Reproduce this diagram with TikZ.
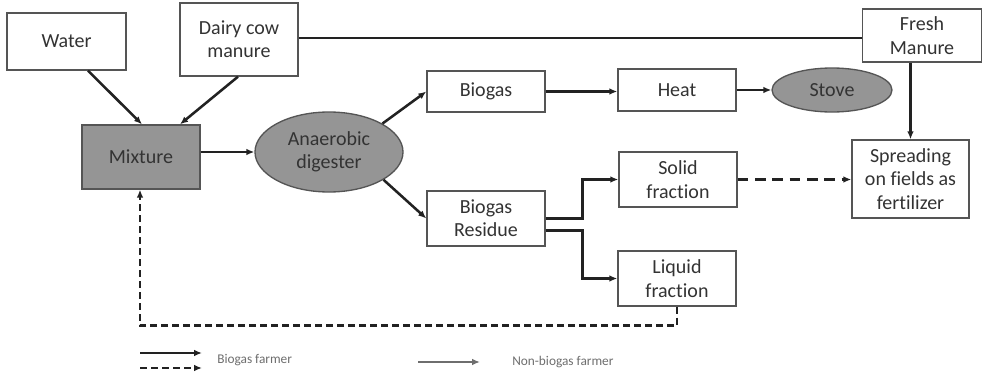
\documentclass[tikz,border=0pt]{standalone}
\usepackage{fontspec}
\setmainfont{Carlito}[Ligatures=NoCommon]
\usetikzlibrary{arrows.meta,calc,shapes.geometric}
\definecolor{linec}{HTML}{222222}
\definecolor{boxc}{HTML}{555555}
\definecolor{txtc}{HTML}{333333}
\definecolor{fillc}{HTML}{959595}
\definecolor{legc}{HTML}{6E6E6E}
\begin{document}
\begin{tikzpicture}[x=0.75pt,y=-0.75pt,
  box/.style={draw=boxc,line width=1pt,fill=white,text=txtc,align=center,inner sep=1pt,
    font=\fontsize{15}{17.5}\selectfont},
  grbox/.style={box,fill=fillc},
  oval/.style={ellipse,draw=boxc,line width=1pt,fill=fillc,text=txtc,align=center,inner sep=0pt,
    font=\fontsize{15}{17.5}\selectfont},
  conn/.style={draw=linec,line width=1.9pt},
  arr/.style={conn,-{Latex[length=6pt,width=5pt]}},
  darr/.style={arr,dash pattern=on 5.25pt off 3pt},
  legtext/.style={text=legc,anchor=west,font=\fontsize{10}{12}\selectfont,inner sep=0pt}
]
\useasboundingbox (0,0) rectangle (983,375);
\fill[white] (0,0) rectangle (983,375);

\node[box,minimum width=89.25pt,minimum height=42.75pt] (water) at (66.5,41.5) {Water};
\node[box,minimum width=88.5pt,minimum height=54.75pt] (dairy) at (239,39.5) {Dairy cow\\manure};
\node[grbox,minimum width=88.5pt,minimum height=48pt] (mix) at (141,157) {Mixture};
\node[oval,minimum width=111pt,minimum height=60pt] (anaer) at (329,152) {Anaerobic\\digester};
\node[box,minimum width=88.5pt,minimum height=30.75pt] (biogas) at (486,91.5) {Biogas};
\node[box,minimum width=88.5pt,minimum height=31.5pt] (heat) at (677,90) {Heat};
\node[oval,minimum width=90pt,minimum height=33pt] (stove) at (832,90) {Stove};
\node[box,minimum width=88.5pt,minimum height=41.25pt] (solid) at (678,179.5) {Solid\\fraction};
\node[box,minimum width=88.5pt,minimum height=41.25pt] (resid) at (486,218.5) {Biogas\\Residue};
\node[box,minimum width=88.5pt,minimum height=41.25pt] (liquid) at (677,278.5) {Liquid\\fraction};
\node[box,minimum width=89.25pt,minimum height=39.75pt] (fresh) at (922,35.5) {Fresh\\Manure};
\node[box,minimum width=87.75pt,minimum height=58.5pt] (spread) at (910.5,179) {Spreading\\on fields as\\fertilizer};

% connectors
\draw[arr] ($(water.south)+(21.5,0)$) -- ($(mix.north)+(1,0)$);
\draw[arr] ($(dairy.south)+(-1,0)$) -- ($(mix.north)+(39,0)$);
\draw[conn] ($(dairy.east)+(0,-1.5)$) -- ($(dairy.east -| fresh.west)+(0,-1.5)$);
\draw[arr] (mix.east |- anaer.west) -- (anaer.west);
\draw[arr] (anaer.28) -- (biogas.west);
\draw[arr] (anaer.-27) -- (resid.west);
\draw[arr] (biogas.east) -- (biogas.east -| heat.west);
\draw[arr] (heat.east) -- (stove.west);
\draw[arr] (resid.east) -- ++(37,0) |- (solid.west);
\draw[arr] ($(resid.east)+(0,12)$) -- ++(37,0) |- (liquid.west);
\draw[arr,dash pattern=on 8pt off 5pt] (solid.east) -- (solid.east -| spread.west);
\draw[arr] (fresh.south -| spread.north) -- (spread.north);
\draw[darr] (liquid.south) -- ++(0,19) -| ($(mix.south)+(-1,0)$);

% legend
\coordinate (l1a) at (140,353); \coordinate (l1b) at (202,353);
\coordinate (l2a) at (140,368); \coordinate (l2b) at (202,368);
\coordinate (l3a) at (418,362); \coordinate (l3b) at (480,362);
\draw[arr] (l1a) -- (l1b);
\draw[darr] (l2a) -- (l2b);
\draw[draw=legc,line width=1.5pt,-{Latex[length=6pt,width=5pt]}] (l3a) -- (l3b);
\node[legtext] (leg1) at (217,360) {Biogas farmer};
\node[legtext] (leg2) at (512,362) {Non-biogas farmer};
\end{tikzpicture}
\end{document}
